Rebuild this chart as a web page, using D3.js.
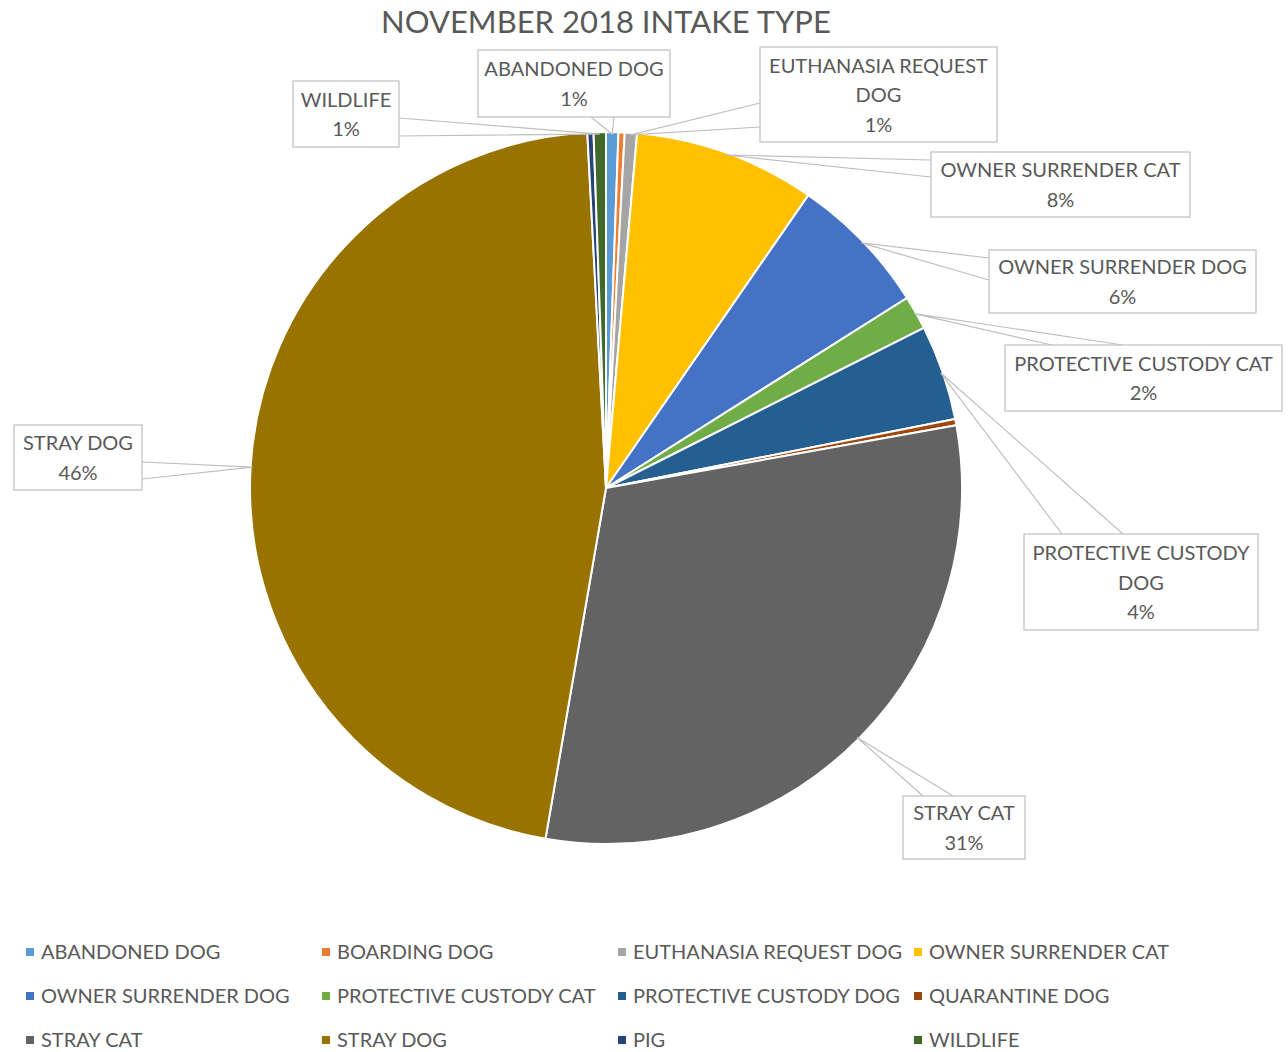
<!DOCTYPE html>
<html>
<head>
<meta charset="utf-8">
<script src="https://cdn.jsdelivr.net/npm/d3@7"></script>
<style>
  body { margin: 0; background: #fff; }
  text { font-family: Lato, "Open Sans", sans-serif; fill: #595959; }
</style>
</head>
<body>
<div id="chart"></div>
<script>
// data (counts)
const categories = ["ABANDONED DOG", "BOARDING DOG", "EUTHANASIA REQUEST DOG", "OWNER SURRENDER CAT",
  "OWNER SURRENDER DOG", "PROTECTIVE CUSTODY CAT", "PROTECTIVE CUSTODY DOG", "QUARANTINE DOG",
  "STRAY CAT", "STRAY DOG", "PIG", "WILDLIFE"];
const counts = [4, 2, 4, 59, 46, 11, 31, 2, 219, 333, 2, 4];
const colors = ["#5B9BD5", "#ED7D31", "#A5A5A5", "#FFC000", "#4472C4", "#70AD47",
  "#255E91", "#9E480E", "#636363", "#997300", "#264478", "#43682B"];
const title = "NOVEMBER 2018 INTAKE TYPE";

// callout boxes: position, text lines, edge where the leader attaches
const callouts = {
  "WILDLIFE":               {x: 293, y: 81,  w: 106, h: 66, lines: ["WILDLIFE"], side: "right", at: [118, 136]},
  "ABANDONED DOG":          {x: 478, y: 50,  w: 192, h: 67, lines: ["ABANDONED DOG"], side: "bottom", at: [591, 614]},
  "EUTHANASIA REQUEST DOG": {x: 760, y: 47,  w: 237, h: 95, lines: ["EUTHANASIA REQUEST", "DOG"], side: "left", at: [103, 127]},
  "OWNER SURRENDER CAT":    {x: 931, y: 152, w: 259, h: 65, lines: ["OWNER SURRENDER CAT"], side: "left", at: [160, 177]},
  "OWNER SURRENDER DOG":    {x: 989, y: 250, w: 267, h: 63, lines: ["OWNER SURRENDER DOG"], side: "left", at: [258, 280]},
  "PROTECTIVE CUSTODY CAT": {x: 1005, y: 345, w: 277, h: 66, lines: ["PROTECTIVE CUSTODY CAT"], side: "top", at: [1052, 1123]},
  "PROTECTIVE CUSTODY DOG": {x: 1024, y: 534, w: 234, h: 96, lines: ["PROTECTIVE CUSTODY", "DOG"], side: "top", at: [1062, 1123]},
  "STRAY CAT":              {x: 903, y: 796, w: 122, h: 63, lines: ["STRAY CAT"], side: "top", at: [923, 953]},
  "STRAY DOG":              {x: 14,  y: 425, w: 128, h: 65, lines: ["STRAY DOG"], side: "right", at: [462, 479]}
};

const width = 1288, height = 1052;
const cx = 606, cy = 488, radius = 356;

const svg = d3.select("#chart").append("svg")
  .attr("width", width)
  .attr("height", height);

svg.append("text")
  .attr("x", cx)
  .attr("y", 33)
  .attr("text-anchor", "middle")
  .style("font-size", "31px")
  .text(title);

const data = categories.map((c, i) => ({name: c, value: counts[i], color: colors[i]}));
const total = d3.sum(counts);

const pie = d3.pie().sort(null).value(d => d.value);
const arcs = pie(data);
const arc = d3.arc().innerRadius(0).outerRadius(radius);

const g = svg.append("g").attr("transform", `translate(${cx},${cy})`);

g.selectAll("path.slice")
  .data(arcs)
  .join("path")
  .attr("class", "slice")
  .attr("d", arc)
  .attr("fill", d => d.data.color)
  .attr("stroke", "#fff")
  .attr("stroke-width", 2);

// callouts with wedge-shaped leaders
const labelled = arcs.filter(d => callouts[d.data.name]);

const cg = svg.append("g");
labelled.forEach(d => {
  const c = callouts[d.data.name];
  const mid = (d.startAngle + d.endAngle) / 2;
  const px = cx + Math.sin(mid) * (radius - 2);
  const py = cy - Math.cos(mid) * (radius - 2);
  let p1, p2;
  if (c.side === "left") { p1 = [c.x, c.at[0]]; p2 = [c.x, c.at[1]]; }
  else if (c.side === "right") { p1 = [c.x + c.w, c.at[0]]; p2 = [c.x + c.w, c.at[1]]; }
  else if (c.side === "top") { p1 = [c.at[0], c.y]; p2 = [c.at[1], c.y]; }
  else { p1 = [c.at[0], c.y + c.h]; p2 = [c.at[1], c.y + c.h]; }

  cg.append("path")
    .attr("d", d3.line()([p1, [px, py], p2]))
    .attr("fill", "none")
    .attr("stroke", "#bfbfbf")
    .attr("stroke-width", 1.2);

  cg.append("rect")
    .attr("x", c.x).attr("y", c.y)
    .attr("width", c.w).attr("height", c.h)
    .attr("fill", "#fff")
    .attr("stroke", "#bfbfbf")
    .attr("stroke-width", 1.2);

  const pct = Math.round(d.data.value / total * 100) + "%";
  const lines = c.lines.concat([pct]);
  const lh = 29.5;
  const y0 = c.y + c.h / 2 - (lines.length - 1) * lh / 2 + 7.5;
  lines.forEach((t, i) => {
    cg.append("text")
      .attr("x", c.x + c.w / 2)
      .attr("y", y0 + i * lh)
      .attr("text-anchor", "middle")
      .style("font-size", "20px")
      .text(t);
  });
});

// legend, 4 columns x 3 rows
const colX = d3.scalePoint().domain([0, 1, 2, 3]).range([26, 914]);
const rowY = d3.scalePoint().domain([0, 1, 2]).range([952, 1040]);

const legend = svg.append("g").selectAll("g")
  .data(data)
  .join("g")
  .attr("transform", (d, i) => `translate(${colX(i % 4)},${rowY(Math.floor(i / 4))})`);

legend.append("rect")
  .attr("x", 0).attr("y", -4)
  .attr("width", 8).attr("height", 8)
  .attr("fill", d => d.color);

legend.append("text")
  .attr("x", 15)
  .attr("y", 7)
  .style("font-size", "20px")
  .text(d => d.name);
</script>
</body>
</html>
